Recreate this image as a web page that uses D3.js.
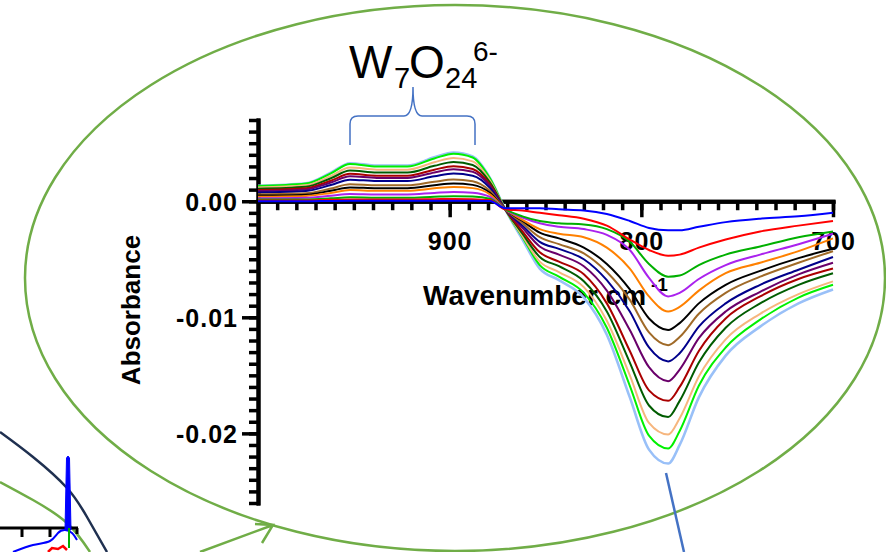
<!DOCTYPE html>
<html>
<head>
<meta charset="utf-8">
<script src="https://cdn.jsdelivr.net/npm/d3@7"></script>
<style>
  body { margin: 0; background: #fff; }
  svg { display: block; font-family: "Liberation Sans", Arial, sans-serif; }
</style>
</head>
<body>
<script>
// wavenumber grid (cm-1) shared by every trace
const wavenumber = [1000, 975, 962, 952, 938, 922, 908, 898, 888, 879, 871, 862, 853, 843, 830, 818, 806, 796, 786, 780, 770, 756, 738, 718, 700];

// absorbance traces (shallowest to deepest)
const blueTrace = [0, 0, 0.00003, 0.00004, 0.00004, 0.00004, 0.00005, 0.00005, 0.00005, 0.00002, -0.0006, -0.0006, -0.0006, -0.0007, -0.0008, -0.0011, -0.0017, -0.0023, -0.0025, -0.0025, -0.0022, -0.0018, -0.0015, -0.0013, -0.0010];
const redTrace = [0.00006, 0.00007, 0.00012, 0.00016, 0.00015, 0.00015, 0.00018, 0.0002, 0.00018, 0.0001, -0.0007, -0.0008, -0.0010, -0.0012, -0.0015, -0.0021, -0.0033, -0.0042, -0.0047, -0.0046, -0.0040, -0.0033, -0.0026, -0.0021, -0.0017];
const greenTrace = [0.00014, 0.00016, 0.00025, 0.00034, 0.00031, 0.00031, 0.00039, 0.00043, 0.0004, 0.00021, -0.0007, -0.0013, -0.0017, -0.0019, -0.0020, -0.0024, -0.0035, -0.0054, -0.0065, -0.0064, -0.0055, -0.0046, -0.0039, -0.0031, -0.0026];
const violetTrace = [0.00026, 0.0003, 0.00047, 0.00062, 0.00058, 0.00058, 0.00072, 0.0008, 0.00074, 0.00038, -0.0007, -0.0014, -0.0019, -0.0022, -0.0024, -0.0029, -0.0042, -0.0066, -0.0082, -0.0079, -0.0067, -0.0055, -0.0046, -0.0037, -0.0028];
const orangeTrace = [0.00039, 0.00046, 0.00072, 0.00096, 0.0009, 0.0009, 0.00111, 0.00123, 0.00113, 0.00059, -0.0007, -0.0016, -0.0024, -0.0028, -0.0031, -0.0040, -0.0058, -0.0082, -0.0095, -0.0091, -0.0077, -0.0062, -0.0053, -0.0043, -0.0032];
const blackTrace = [0.00049, 0.00057, 0.0009, 0.00119, 0.00112, 0.00112, 0.00138, 0.00153, 0.00141, 0.00073, -0.0007, -0.0017, -0.0027, -0.0032, -0.0040, -0.0054, -0.0076, -0.0101, -0.0111, -0.0105, -0.0088, -0.0072, -0.0060, -0.0049, -0.0041];
const brownTrace = [0.0006, 0.00069, 0.00109, 0.00146, 0.00137, 0.00137, 0.00168, 0.00187, 0.00172, 0.0009, -0.0007, -0.0019, -0.0031, -0.0037, -0.0045, -0.0061, -0.0085, -0.0113, -0.0124, -0.0117, -0.0097, -0.0079, -0.0065, -0.0053, -0.0043];
const navyTrace = [0.00076, 0.00088, 0.0014, 0.00186, 0.00174, 0.00174, 0.00215, 0.00239, 0.0022, 0.00115, -0.0007, -0.0021, -0.0035, -0.0041, -0.0050, -0.0068, -0.0095, -0.0126, -0.0138, -0.0131, -0.0108, -0.0088, -0.0072, -0.0059, -0.0048];
const purpleTrace = [0.00088, 0.00102, 0.00161, 0.00215, 0.00201, 0.00201, 0.00248, 0.00276, 0.00254, 0.00132, -0.0007, -0.0023, -0.0039, -0.0046, -0.0056, -0.0077, -0.0111, -0.0143, -0.0155, -0.0145, -0.0118, -0.0095, -0.0078, -0.0063, -0.0053];
const darkRedTrace = [0.00097, 0.00112, 0.00177, 0.00236, 0.0022, 0.0022, 0.00272, 0.00302, 0.00278, 0.00145, -0.0007, -0.0026, -0.0044, -0.0052, -0.0063, -0.0088, -0.0129, -0.0163, -0.0172, -0.0160, -0.0129, -0.0101, -0.0082, -0.0067, -0.0058];
const darkGreenTrace = [0.00108, 0.00125, 0.00198, 0.00264, 0.00247, 0.00247, 0.00305, 0.00339, 0.00312, 0.00163, -0.0007, -0.0028, -0.0048, -0.0056, -0.0069, -0.0095, -0.0139, -0.0176, -0.0186, -0.0172, -0.0139, -0.0109, -0.0088, -0.0072, -0.0062];
const peachTrace = [0.00119, 0.00138, 0.00218, 0.00291, 0.00272, 0.00272, 0.00336, 0.00373, 0.00343, 0.00179, -0.0007, -0.0030, -0.0052, -0.0061, -0.0074, -0.0103, -0.0150, -0.0191, -0.0201, -0.0187, -0.0151, -0.0119, -0.0097, -0.0080, -0.0069];
const limeTrace = [0.00131, 0.00152, 0.0024, 0.0032, 0.00299, 0.00299, 0.00369, 0.0041, 0.00377, 0.00197, -0.0007, -0.0031, -0.0055, -0.0065, -0.0079, -0.0109, -0.0159, -0.0202, -0.0213, -0.0198, -0.0159, -0.0126, -0.0102, -0.0083, -0.0072];
const lightBlueTrace = [0.00134, 0.00155, 0.00246, 0.00328, 0.00307, 0.00307, 0.00378, 0.0042, 0.00386, 0.00202, -0.0007, -0.0033, -0.0058, -0.0068, -0.0083, -0.0115, -0.0169, -0.0214, -0.0226, -0.0210, -0.0169, -0.0133, -0.0108, -0.0088, -0.0076];

const xMajorTicks = [900, 800, 700];
const yMajorTicks = [0, -0.01, -0.02];

// drawn bottom to top
const traces = [
  {values: lightBlueTrace, color: "#99c0f8"},
  {values: limeTrace, color: "#00f000"},
  {values: peachTrace, color: "#f6b67e"},
  {values: darkGreenTrace, color: "#005c00"},
  {values: darkRedTrace, color: "#aa0000"},
  {values: purpleTrace, color: "#6a006a"},
  {values: navyTrace, color: "#00008b"},
  {values: brownTrace, color: "#a06a28"},
  {values: blackTrace, color: "#000000"},
  {values: orangeTrace, color: "#ff8000"},
  {values: violetTrace, color: "#aa22ee"},
  {values: greenTrace, color: "#00b000"},
  {values: redTrace, color: "#ff0000"},
  {values: blueTrace, color: "#0000ff"}
];

const width = 886, height = 552;
const svg = d3.select("body").append("svg")
  .attr("width", width)
  .attr("height", height);

const xScale = d3.scaleLinear().domain([1000, 700]).range([258, 833]);
const yScale = d3.scaleLinear().domain([-0.026, 0.007]).range([503, 120]);

// big callout ellipse
svg.append("ellipse")
  .attr("cx", 455).attr("cy", 278)
  .attr("rx", 430).attr("ry", 273)
  .attr("fill", "none")
  .attr("stroke", "#70ad47")
  .attr("stroke-width", 2.5);

// bits of the neighbouring figure in the lower-left corner
const smooth = d3.line().curve(d3.curveNatural);
svg.append("path")
  .attr("d", smooth([[0, 432], [33, 457], [67, 488], [87, 517], [107, 552]]))
  .attr("fill", "none").attr("stroke", "#1f3050").attr("stroke-width", 2.5);
svg.append("path")
  .attr("d", smooth([[0, 482], [33, 500], [67, 523], [90, 552]]))
  .attr("fill", "none").attr("stroke", "#70ad47").attr("stroke-width", 2.5);
svg.append("path")
  .attr("d", "M0,528H78M22,528V537M50,528V537M77,528V534")
  .attr("fill", "none").attr("stroke", "#000").attr("stroke-width", 3);
svg.append("path")
  .attr("d", smooth([[13, 552], [33, 545], [50, 541], [58, 533], [65, 530], [72, 533], [77, 540]]))
  .attr("fill", "none").attr("stroke", "#0000ff").attr("stroke-width", 2);
svg.append("path")
  .attr("d", "M65,530L66.5,458L68,456L69.5,458L71,530Z")
  .attr("fill", "#0000ff").attr("stroke", "#0000ff").attr("stroke-width", 1);
svg.append("path")
  .attr("d", "M48,552L52,548L58,549L63,546L67,550")
  .attr("fill", "none").attr("stroke", "#ff0000").attr("stroke-width", 2.5);
svg.append("path")
  .attr("d", "M69,528V548")
  .attr("fill", "none").attr("stroke", "#00b000").attr("stroke-width", 2);

// arrow into the ellipse
svg.append("path")
  .attr("d", "M200,552L273,525M255,524L273,525L262,543")
  .attr("fill", "none").attr("stroke", "#70ad47").attr("stroke-width", 2.5);

// pointer line under the minimum
svg.append("line")
  .attr("x1", 666).attr("y1", 473).attr("x2", 684).attr("y2", 552)
  .attr("stroke", "#4472c4").attr("stroke-width", 2.5);

// y axis: minor ticks every 0.001, major every 0.01
const yAxisG = svg.append("g").attr("transform", "translate(258,0)");
yAxisG.append("g")
  .call(d3.axisLeft(yScale).tickValues(d3.range(-26, 8).map(d => d / 1000)).tickSize(9).tickSizeOuter(0).tickFormat(""));
yAxisG.append("g")
  .call(d3.axisLeft(yScale).tickValues(yMajorTicks).tickSize(16).tickSizeOuter(0)
    .tickFormat(d => d === 0 ? "0.00" : d.toFixed(2)));
yAxisG.selectAll("text")
  .attr("x", -20)
  .attr("dy", "0.38em")
  .style("font-size", "25px")
  .style("font-weight", "bold")
  .style("letter-spacing", "1px")
  .attr("fill", "#000");

// x axis at zero: minor ticks every 10 cm-1
const xAxisG = svg.append("g").attr("transform", "translate(0," + yScale(0) + ")");
xAxisG.append("g")
  .call(d3.axisBottom(xScale).tickValues(d3.range(990, 699, -10)).tickSize(9).tickSizeOuter(0).tickFormat(""));
xAxisG.append("g")
  .call(d3.axisBottom(xScale).tickValues(xMajorTicks).tickSize(16).tickSizeOuter(0).tickFormat(d3.format("d")));
xAxisG.selectAll("text")
  .attr("y", 49)
  .attr("dy", 0)
  .style("font-size", "25px")
  .style("font-weight", "bold")
  .style("letter-spacing", "1px")
  .attr("fill", "#000");

svg.selectAll(".domain").attr("stroke", "#000").attr("stroke-width", 4).attr("stroke-linecap", "square");
svg.selectAll(".tick line").attr("stroke", "#000").attr("stroke-width", 3.5);

// axis titles
svg.append("text")
  .attr("transform", "translate(140,310) rotate(-90)")
  .attr("text-anchor", "middle")
  .style("font-size", "26px")
  .style("font-weight", "bold")
  .text("Absorbance");

svg.append("text")
  .attr("x", 423).attr("y", 305)
  .style("font-size", "28px")
  .style("font-weight", "bold")
  .text("Wavenumber cm");
svg.append("text")
  .attr("x", 651).attr("y", 291)
  .style("font-size", "19px")
  .style("font-weight", "bold")
  .text("-1");

// spectra
const line = d3.line()
  .x((d, i) => xScale(wavenumber[i]))
  .y(d => yScale(d))
  .curve(d3.curveMonotoneX);

svg.append("g").selectAll("path")
  .data(traces)
  .enter().append("path")
  .attr("d", d => line(d.values))
  .attr("fill", "none")
  .attr("stroke", d => d.color)
  .attr("stroke-width", d => d.color === "#99c0f8" ? 2.6 : 2)
  .attr("stroke-linejoin", "round");

// brace over the tungstate band
svg.append("path")
  .attr("d", "M350,145V124Q350,116,358,116H404Q413,116,413,87Q413,116,422,116H467Q475,116,475,124V145")
  .attr("fill", "none")
  .attr("stroke", "#4472c4")
  .attr("stroke-width", 1.5);

// W7O24 6- label
const title = svg.append("g").style("fill", "#000");
title.append("text").attr("x", 349).attr("y", 78).style("font-size", "46px").text("W");
title.append("text").attr("x", 394).attr("y", 88).style("font-size", "29px").text("7");
title.append("text").attr("x", 409).attr("y", 78).style("font-size", "46px").text("O");
title.append("text").attr("x", 445).attr("y", 88).style("font-size", "29px").text("24");
title.append("text").attr("x", 473).attr("y", 61).style("font-size", "28px").text("6-");
</script>
</body>
</html>
